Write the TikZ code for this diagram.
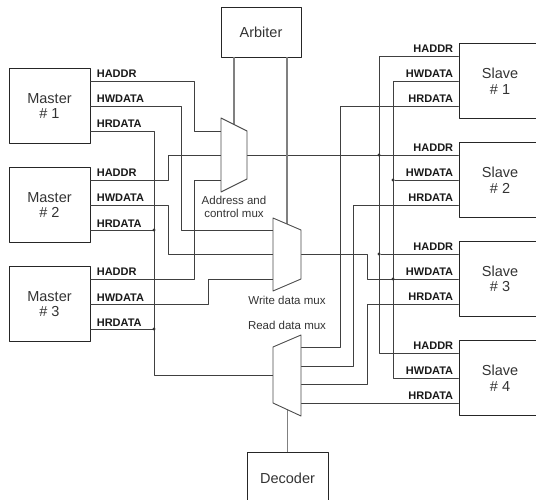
\documentclass[tikz,border=0pt]{standalone}
\usepackage{fontspec}
\setmainfont{Liberation Sans}
\usepackage{tikz}
\usetikzlibrary{calc}
\tikzset{
  unit/.style={draw=black!85, line width=0.9pt, minimum width=81pt, minimum height=75pt, align=center, text=black!80, font=\fontsize{14.5}{15.5}\selectfont},
  ctrl/.style={draw=black!85, line width=0.9pt, minimum width=80pt, minimum height=50pt, text=black!80, font=\fontsize{14.5}{16}\selectfont},
  sig/.style={inner sep=0pt, text=black!90, font=\bfseries\fontsize{11}{12}\selectfont},
  mlab/.style={sig, anchor=base west, xshift=6pt, yshift=3pt},
  slab/.style={sig, anchor=base east, xshift=-5pt, yshift=3.5pt},
  muxlbl/.style={align=center, inner sep=0pt, text=black!80, font=\fontsize{11.5}{12.7}\selectfont},
  bus/.style={draw=black!75, line width=0.75pt},
  sel/.style={draw=black!50, line width=1.1pt},
  mux/.style={draw=black!70, line width=0.9pt, fill=white},
  dotv/.style={circle, fill=black!80, inner sep=1.1pt},
  every picture/.style={line cap=round, line join=round}
}

\begin{document}
\begin{tikzpicture}[x=1pt, y=-1pt]
  \clip (0,0) rectangle (536,500);

  % Masters and slaves
  \node[unit] (m1) at (49.5,106) {Master\\\# 1};
  \node[unit] (m2) at (49.5,205) {Master\\\# 2};
  \node[unit] (m3) at (49.5,304) {Master\\\# 3};

  \node[unit, minimum width=82pt] (s1) at (500,81) {Slave\\\# 1};
  \node[unit, minimum width=82pt] (s2) at (500,180) {Slave\\\# 2};
  \node[unit, minimum width=82pt] (s3) at (500,279) {Slave\\\# 3};
  \node[unit, minimum width=82pt] (s4) at (500,378) {Slave\\\# 4};

  \node[ctrl] (arb) at (261,32) {Arbiter};
  \node[ctrl, minimum width=81pt, minimum height=52pt] (dec) at (287.5,478) {Decoder};

  % Mux ports
  \coordinate (ain1) at (221,131);
  \coordinate (ain2) at (221,155);
  \coordinate (ain3) at (221,180);
  \coordinate (aout) at (247,155);
  \coordinate (asel) at (234,124.5);
  \coordinate (win1) at (273,230);
  \coordinate (win2) at (273,254);
  \coordinate (win3) at (273,279);
  \coordinate (wout) at (301,254);
  \coordinate (wsel) at (287,224);
  \coordinate (rin) at (273,375);
  \coordinate (rout1) at (301,347);
  \coordinate (rout2) at (301,366);
  \coordinate (rout3) at (301,384);
  \coordinate (rout4) at (301,403);
  \coordinate (rsel) at (287.5,409.7);

  % Master side
  \draw[bus] ([yshift=25pt]m1.east) node[mlab] (m1ad) {HADDR} -| (194,131) -- (ain1);
  \draw[bus] (m1.east) node[mlab] (m1wd) {HWDATA} -| (181,230) -- (win1);
  \draw[bus] ([yshift=-25pt]m1.east) node[mlab] (m1rd) {HRDATA} -| (154,375) -- (rin);

  \draw[bus] ([yshift=25pt]m2.east) node[mlab] (m2ad) {HADDR} -| (168,155) -- (ain2);
  \draw[bus] (m2.east) node[mlab] (m2wd) {HWDATA} -| (168,254) -- (win2);
  \draw[bus] ([yshift=-25pt]m2.east) node[mlab] (m2rd) {HRDATA} -- (154,230) node[dotv] (j1) {};

  \draw[bus] ([yshift=25pt]m3.east) node[mlab] (m3ad) {HADDR} -| (194,180) -- (ain3);
  \draw[bus] (m3.east) node[mlab] (m3wd) {HWDATA} -| (208,279) -- (win3);
  \draw[bus] ([yshift=-25pt]m3.east) node[mlab] (m3rd) {HRDATA} -- (154,329) node[dotv] (j2) {};

  % Slave side
  \draw[bus] (aout) -- ([yshift=25pt]s2.west) node[slab] (s2ad) {HADDR};
  \draw[bus] ([yshift=25pt]s1.west) node[slab] (s1ad) {HADDR} -| (379,353) -- ([yshift=25pt]s4.west) node[slab] (s4ad) {HADDR};
  \node[dotv] (j3) at (379,155) {};
  \node[dotv] (j4) at (379,254) {};
  \draw[bus] (j4) -- ([yshift=25pt]s3.west) node[slab] (s3ad) {HADDR};

  \draw[bus] (s1.west) node[slab] (s1wd) {HWDATA} -| (393,378) -- (s4.west) node[slab] (s4wd) {HWDATA};
  \node[dotv] (j5) at (393,180) {};
  \draw[bus] (j5) -- (s2.west) node[slab] (s2wd) {HWDATA};
  \draw[bus] (wout) -| (367,279) -- (s3.west) node[slab] (s3wd) {HWDATA};
  \node[dotv] (j6) at (393,279) {};

  \draw[bus] (rout1) -| (340,106) -- ([yshift=-25pt]s1.west) node[slab] (s1rd) {HRDATA};
  \draw[bus] (rout2) -| (353,205) -- ([yshift=-25pt]s2.west) node[slab] (s2rd) {HRDATA};
  \draw[bus] (rout3) -| (367,304) -- ([yshift=-25pt]s3.west) node[slab] (s3rd) {HRDATA};
  \draw[bus] (rout4) -- ([yshift=-25pt]s4.west) node[slab] (s4rd) {HRDATA};

  % Select lines
  \draw[sel] ([xshift=-27pt]arb.south) -- (asel);
  \draw[sel] ([xshift=26pt]arb.south) -- (wsel);
  \draw[sel] (dec.north) -- (rsel);

  % Muxes
  \draw[mux] (221,118) -- (247,131) -- (247,179) -- (221,192) -- cycle;
  \draw[mux] (273,218) -- (301,230) -- (301,279) -- (273,291) -- cycle;
  \draw[mux] (273,347) -- (301,335) -- (301,416) -- (273,403) -- cycle;

  \node[muxlbl] (alab) at (234,207) {Address and\\control mux};
  \node[muxlbl] (wlab) at (287,300) {Write data mux};
  \node[muxlbl] (rlab) at (287,325) {Read data mux};
\end{tikzpicture}
\end{document}
